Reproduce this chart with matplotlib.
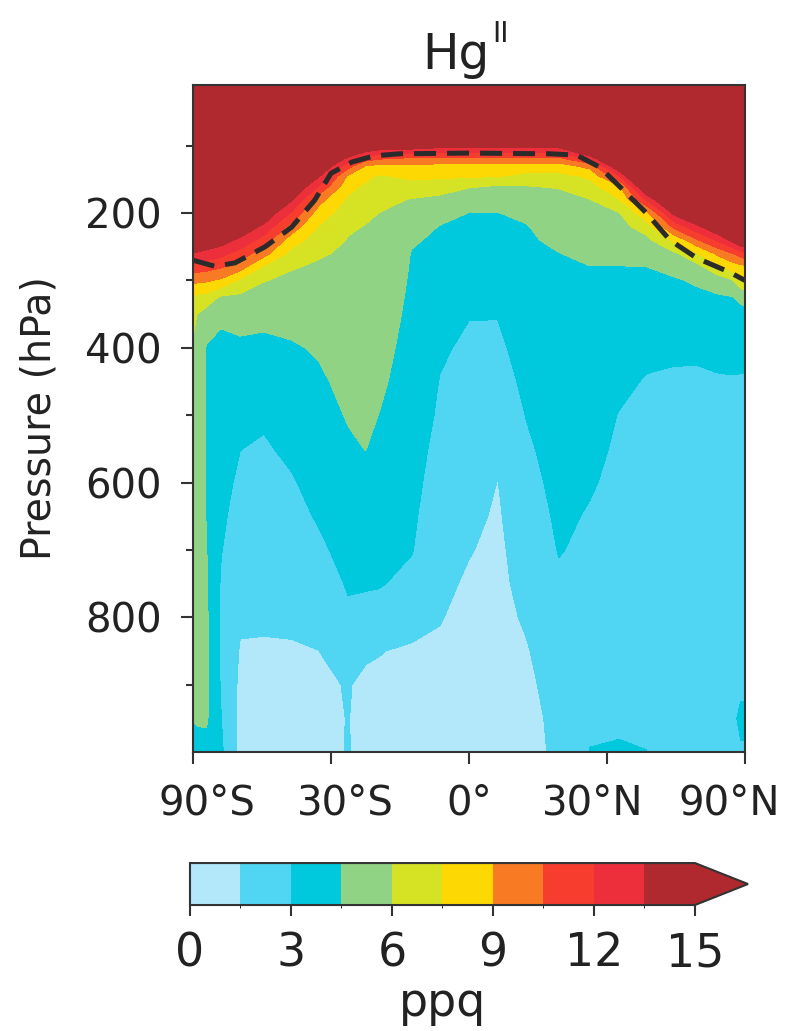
import numpy as np
import matplotlib.pyplot as plt
from matplotlib.colors import ListedColormap, BoundaryNorm
from matplotlib.ticker import NullLocator
from matplotlib.transforms import ScaledTranslation

# zonal-mean Hg(II), ppq, one profile per latitude (top -> surface)
pressure = [10, 100, 110, 120, 130, 145, 160, 180, 200, 220, 240, 260, 280, 300, 325,
            350, 400, 450, 500, 550, 600, 650, 700, 750, 800, 850, 900, 950, 1000]
lats = [-90, -80, -72, -64, -56, -48, -40, -33, -26, -22, -19, -12, -6, 0,
        6, 12, 19, 26, 33, 40, 48, 56, 64, 72, 80, 90]
hg2_by_lat = [
    [20, 20, 20, 20, 20, 19.5, 19, 18, 17, 16, 15.4, 13.4, 11.4, 9.4, 7.37, 6.26, 5.89, 5.77, 5.64, 5.52, 5.4, 5.27, 5.15, 5.03, 4.9, 4.78, 4.66, 4.53, 4.2],
    [20, 20, 20, 20, 20, 19.5, 19, 18, 17, 16, 15.3, 13.3, 11.3, 9.3, 7.1, 5.99, 5.87, 5.75, 5.63, 5.51, 5.39, 5.27, 5.15, 5.04, 4.92, 4.8, 4.68, 4.56, 4.3],
    [20, 20, 20, 20, 20, 19.5, 19, 18, 17, 16, 14.8, 13.0, 11.1, 9.2, 6.93, 5.3, 4.4, 4.4, 4.4, 4.4, 4.4, 4.45, 4.55, 4.65, 4.75, 4.85, 4.9, 4.7, 4.0],
    [20, 20, 20, 20, 20, 19.5, 19, 18, 17.5, 16.2, 14.3, 12.5, 10.65, 8.77, 5.79, 4.6, 4.37, 4.15, 3.93, 3.72, 3.5, 3.28, 3.07, 2.9, 2.85, 2.8, 2.9, 3.05, 3.3],
    [20, 20, 20, 20, 20, 19.5, 19, 18.3, 16.6, 14.9, 13.15, 11.4, 9.7, 7.22, 5.67, 4.99, 4.24, 3.83, 3.42, 3.02, 2.74, 2.48, 2.21, 1.95, 1.68, 1.4, 1.25, 1.15, 1.1],
    [20, 20, 20, 20, 20, 19.7, 18.4, 16.7, 14.9, 13.15, 11.4, 9.6, 7.26, 6.06, 5.45, 4.87, 4.17, 3.68, 3.19, 2.85, 2.61, 2.36, 2.12, 1.88, 1.63, 1.4, 1.2, 1.1, 1.05],
    [20, 20, 20, 19.3, 18.4, 17, 15.6, 13.7, 11.8, 9.94, 8.21, 7.0, 6.09, 5.73, 5.35, 4.97, 4.36, 3.99, 3.61, 3.24, 2.89, 2.59, 2.29, 1.99, 1.69, 1.4, 1.2, 1.1, 1.05],
    [20, 19.0, 17.9, 16.7, 15.5, 13.7, 11.96, 9.6, 8.32, 7.43, 6.78, 6.13, 5.84, 5.64, 5.39, 5.14, 4.64, 4.29, 4.0, 3.71, 3.41, 3.12, 2.76, 2.33, 1.91, 1.49, 1.3, 1.2, 1.15],
    [20, 16.56, 14.76, 12.96, 11.16, 8.83, 8.0, 7.22, 6.7, 6.18, 5.93, 5.83, 5.73, 5.62, 5.49, 5.37, 5.11, 4.85, 4.59, 4.31, 4.01, 3.71, 3.41, 3.11, 2.8, 2.3, 1.56, 1.53, 1.55],
    [20, 15.5, 13.28, 11.0, 8.93, 7.84, 7.27, 6.75, 6.23, 5.95, 5.87, 5.78, 5.69, 5.61, 5.5, 5.39, 5.17, 4.96, 4.74, 4.52, 4.19, 3.84, 3.5, 3.15, 2.51, 1.64, 1.3, 1.2, 1.2],
    [20, 14.78, 12.64, 10.5, 8.63, 7.34, 6.95, 6.44, 5.99, 5.89, 5.79, 5.69, 5.59, 5.49, 5.37, 5.24, 4.99, 4.75, 4.48, 4.22, 3.94, 3.66, 3.38, 3.1, 2.42, 1.54, 1.3, 1.2, 1.2],
    [20, 14.68, 12.32, 9.95, 8.67, 7.83, 6.96, 5.91, 5.48, 5.04, 4.61, 4.45, 4.39, 4.33, 4.25, 4.17, 4.01, 3.86, 3.7, 3.54, 3.39, 3.23, 3.07, 2.64, 1.96, 1.35, 1.2, 1.1, 1.1],
    [20, 14.14, 12.0, 9.86, 8.65, 7.79, 6.71, 5.62, 4.92, 4.45, 4.33, 4.2, 4.08, 3.96, 3.8, 3.45, 3.15, 2.95, 2.81, 2.6, 2.39, 2.18, 1.97, 1.76, 1.55, 1.35, 1.2, 1.1, 1.05],
    [20, 14.14, 12.0, 9.86, 8.63, 7.69, 6.12, 5.23, 4.48, 4.3, 4.12, 3.93, 3.75, 3.57, 3.34, 3.05, 2.8, 2.63, 2.41, 2.2, 1.99, 1.78, 1.56, 1.35, 1.2, 1.1, 1.0, 0.95, 0.95],
    [20, 14.14, 12.0, 9.86, 8.61, 7.63, 5.93, 5.18, 4.48, 4.29, 4.1, 3.92, 3.74, 3.55, 3.32, 3.05, 2.74, 2.43, 2.12, 1.81, 1.48, 1.35, 1.25, 1.2, 1.1, 1.05, 1.0, 0.95, 0.95],
    [20, 14.14, 12.0, 9.86, 8.4, 7.07, 5.98, 5.36, 4.72, 4.44, 4.34, 4.24, 4.14, 4.04, 3.91, 3.79, 3.54, 3.29, 3.04, 2.8, 2.57, 2.34, 2.11, 1.89, 1.66, 1.4, 1.2, 1.05, 1.0],
    [20, 14.14, 12.0, 9.86, 8.36, 7.04, 6.07, 5.7, 5.38, 5.06, 4.74, 4.48, 4.42, 4.35, 4.27, 4.19, 4.03, 3.87, 3.71, 3.54, 3.38, 3.22, 3.06, 2.8, 2.5, 2.3, 2.1, 1.9, 1.8],
    [20, 17.5, 14.8, 12.18, 9.53, 7.78, 6.92, 5.98, 5.67, 5.37, 5.06, 4.75, 4.48, 4.4, 4.29, 4.18, 3.97, 3.75, 3.54, 3.33, 3.11, 2.9, 2.75, 2.6, 2.5, 2.45, 2.5, 2.7, 3.05],
    [20, 20, 19.8, 17.55, 15.3, 11.93, 8.86, 7.42, 5.94, 5.56, 5.18, 4.8, 4.47, 4.33, 4.16, 3.98, 3.63, 3.29, 2.95, 2.8, 2.7, 2.6, 2.5, 2.45, 2.4, 2.4, 2.45, 2.75, 3.15],
    [20, 20, 20, 20, 20, 18.99, 16.05, 12.13, 8.54, 6.63, 5.65, 5.06, 4.49, 4.3, 4.06, 3.82, 3.34, 2.9, 2.75, 2.65, 2.6, 2.55, 2.5, 2.45, 2.4, 2.4, 2.45, 2.7, 3.02],
    [20, 20, 20, 20, 20, 20, 19.9, 16.95, 13.95, 10.95, 7.83, 5.71, 4.88, 4.37, 4.07, 3.77, 3.18, 2.85, 2.7, 2.6, 2.55, 2.5, 2.5, 2.45, 2.4, 2.4, 2.4, 2.45, 2.5],
    [20, 20, 20, 20, 20, 20, 20, 18.8, 16.0, 13.22, 10.42, 7.45, 5.56, 4.68, 4.21, 3.86, 3.17, 2.85, 2.7, 2.6, 2.55, 2.5, 2.5, 2.45, 2.4, 2.4, 2.4, 2.45, 2.5],
    [20, 20, 20, 20, 20, 20, 20, 20, 18.0, 15.1, 12.2, 9.29, 7.13, 5.15, 4.33, 3.99, 3.29, 2.9, 2.7, 2.6, 2.55, 2.5, 2.5, 2.45, 2.4, 2.45, 2.5, 2.6, 2.6],
    [20, 20, 20, 20, 20, 20, 20, 20, 20, 17.3, 13.85, 10.38, 8.14, 5.8, 4.43, 4.09, 3.41, 2.9, 2.7, 2.6, 2.55, 2.5, 2.5, 2.55, 2.6, 2.7, 2.8, 2.9, 2.8],
    [20, 20, 20, 20, 20, 20, 20, 20, 20, 19.3, 15.3, 11.3, 8.5, 7.17, 4.71, 4.19, 3.5, 2.85, 2.7, 2.6, 2.55, 2.5, 2.5, 2.6, 2.7, 2.8, 2.9, 3.1, 2.95],
    [20, 20, 20, 20, 20, 20, 20, 20, 20, 19.4, 15.46, 11.54, 8.61, 7.45, 4.82, 4.21, 3.52, 2.85, 2.7, 2.6, 2.55, 2.5, 2.5, 2.6, 2.7, 2.8, 2.9, 3.1, 2.95],
]

# tropopause (dashed)
trop_lat = [-90, -67, -58, -47.6, -40, -34, -30, -25, -20, -14.5, 0, 17, 23, 28.3, 34, 40, 46.7, 55.7, 71, 90]
trop_p = [270, 279, 274, 250, 221, 181, 141, 124, 115, 112, 111, 112, 114, 132, 166, 200, 240, 267, 288, 300]

levels = [0, 1.5, 3, 4.5, 6, 7.5, 9, 10.5, 12, 13.5, 15]
colors = ['#b2e8f9', '#50d5f2', '#00c8dd', '#91d385', '#d6e224',
          '#fdd803', '#f87a22', '#f63d2e', '#ec2f3a', '#b0292f']
cbar_ticks = [0, 3, 6, 9, 12, 15]
xticks = [-90, -30, 0, 30, 90]
xticklabels = ['90°S', '30°S', '0°', '30°N', '90°N']
xlabel_shift = [14, 14, 0, -14, -16]   # px, labels sit a bit inwards

cmap = ListedColormap(colors)
cmap.set_over(colors[-1])
norm = BoundaryNorm(levels, cmap.N)

z = np.array(hg2_by_lat).T
ink = '#222222'

fig = plt.figure(figsize=(7.89, 10.31), dpi=100)
ax = fig.add_axes([0.2446, 0.2706, 0.6996, 0.6469])

def fwd(x):
    return np.sin(np.deg2rad(x))

def inv(y):
    return np.rad2deg(np.arcsin(np.clip(y, -1, 1)))

ax.set_xscale('function', functions=(fwd, inv))
cf = ax.contourf(lats, pressure, z, levels=levels, cmap=cmap, norm=norm, extend='max')
ax.plot(trop_lat, trop_p, color='#2b2b2b', lw=3.6, dashes=(4.4, 2.2))

ax.set_xlim(-90, 90)
ax.set_ylim(1000, 10)
ax.set_xticks(xticks)
ax.set_xticklabels(xticklabels)
ax.xaxis.set_minor_locator(NullLocator())
ax.set_yticks([200, 400, 600, 800])
ax.set_yticks([100, 300, 500, 700, 900], minor=True)
ax.tick_params(axis='both', which='major', labelsize=29, length=8.6, width=1.5,
               color='#333333', labelcolor=ink, pad=14)
ax.tick_params(axis='y', which='minor', length=5, width=1.5, color='#333333')
for lab, dx in zip(ax.get_xticklabels(), xlabel_shift):
    lab.set_transform(lab.get_transform() + ScaledTranslation(dx / 100, 0, fig.dpi_scale_trans))
ax.set_ylabel('Pressure (hPa)', fontsize=28.5, color=ink, labelpad=18)
for s in ax.spines.values():
    s.set_color('#333333')
    s.set_linewidth(1.5)

# title: Hg with a small roman-numeral superscript
fig.text(456 / 789, 1 - 69 / 1031, 'Hg', fontsize=35, color=ink, ha='center', va='baseline')
fig.text(492 / 789, 1 - 42 / 1031, 'II', fontsize=20, color=ink, ha='left', va='baseline')

cax = fig.add_axes([0.2408, 0.1222, 0.7072, 0.0407])
cb = fig.colorbar(cf, cax=cax, orientation='horizontal', extendfrac=0.105, ticks=cbar_ticks)
cb.outline.set_edgecolor('#333333')
cb.outline.set_linewidth(1.5)
cax.tick_params(labelsize=33, length=8, width=1.5, color='#333333', labelcolor=ink, pad=11)
cb.set_label('ppq', fontsize=33, color=ink, labelpad=3)

fig.savefig('out.png', dpi=100)
